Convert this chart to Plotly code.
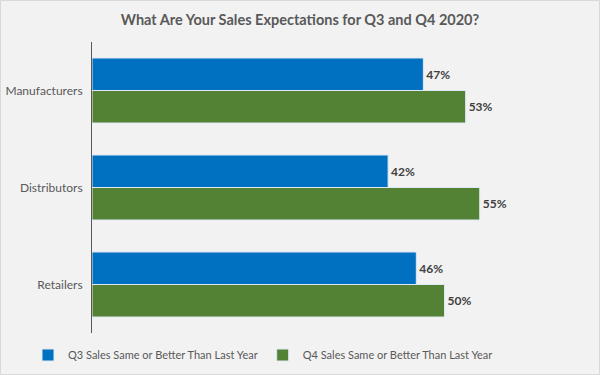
import plotly.graph_objects as go

categories = ["Manufacturers", "Distributors", "Retailers"]
q3_values = [47, 42, 46]
q4_values = [53, 55, 50]
series_names = ["Q3 Sales Same or Better Than Last Year", "Q4 Sales Same or Better Than Last Year"]
colors = ["#0070C0", "#548235"]

W, H = 600, 375
L, R, T, B = 92, 14, 42, 42
pw = W - L - R
ph = H - T - B

fig = go.Figure()
for name, vals, col in zip(series_names, [q3_values, q4_values], colors):
    fig.add_trace(go.Bar(
        y=categories, x=vals, name=name, orientation="h",
        marker=dict(color=col, line=dict(color="#dfe9f5", width=1)),
        text=[f"{v}%" for v in vals], textposition="outside",
        textfont=dict(family="Lato", size=12, color="#404040", weight="bold"),
        cliponaxis=False,
    ))

fig.update_layout(
    width=W, height=H,
    margin=dict(l=L, r=R, t=T, b=B, autoexpand=False),
    paper_bgcolor="#F2F2F2", plot_bgcolor="#F2F2F2",
    barmode="group", bargap=0.33, bargroupgap=0,
    title=dict(text="<b>What Are Your Sales Expectations for Q3 and Q4 2020?</b>",
               x=0.5, xref="container", xanchor="center", y=1 - 20 / H, yanchor="middle",
               font=dict(family="Lato", size=14.5, color="#595959")),
    xaxis=dict(range=[0, pw / 7.05], visible=False, fixedrange=True),
    yaxis=dict(autorange="reversed", showline=True, linecolor="#595959", linewidth=1,
               ticks="", showgrid=False, ticklabelstandoff=6, automargin=False,
               tickfont=dict(family="Lato", size=12, color="#595959")),
    legend=dict(orientation="h", x=(28 - L) / pw, xanchor="left",
                y=-(355 - (H - B)) / ph, yanchor="middle",
                font=dict(family="Lato", size=11, color="#595959"),
                bgcolor="rgba(0,0,0,0)", itemwidth=30),
    showlegend=True,
    font=dict(family="Lato"),
)
fig.add_shape(type="rect", xref="paper", yref="paper",
              x0=-L / pw + 0.5 / pw, x1=1 + (R - 0.5) / pw,
              y0=-B / ph + 0.5 / ph, y1=1 + (T - 0.5) / ph,
              line=dict(color="#D9D9D9", width=1), fillcolor="rgba(0,0,0,0)", layer="below")

fig.write_html("out.html", config={"displayModeBar": False},
               post_script="document.body.style.margin='0';")
